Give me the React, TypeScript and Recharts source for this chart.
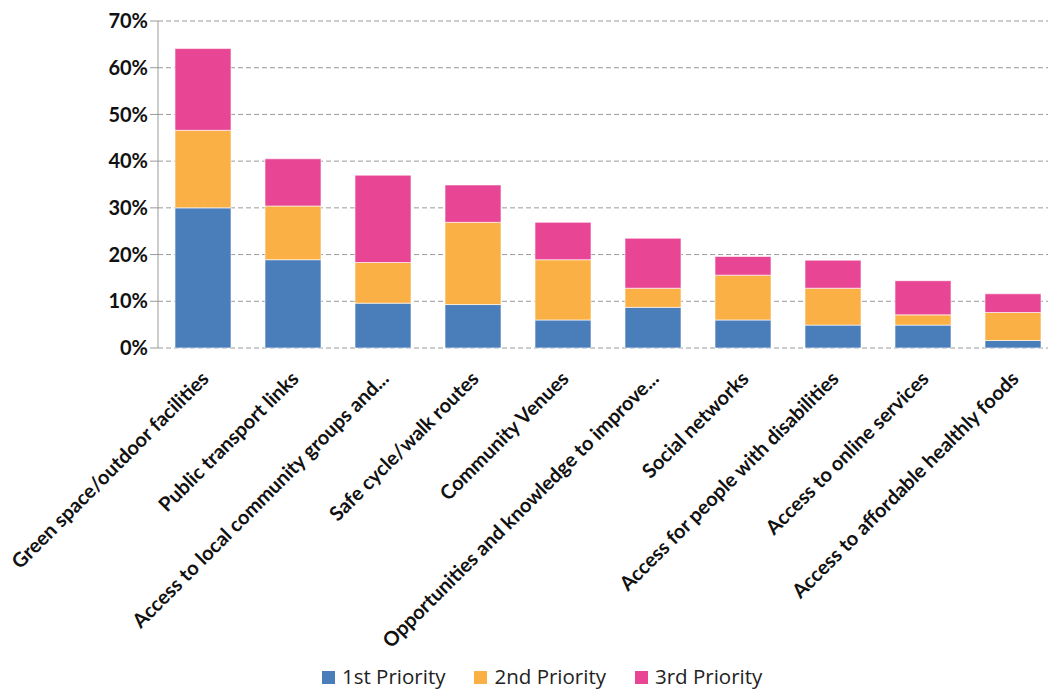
import React from 'react';
import { BarChart, Bar, XAxis, YAxis, CartesianGrid } from 'recharts';

const categories = [
  'Green space/outdoor facilities',
  'Public transport links',
  'Access to local community groups and...',
  'Safe cycle/walk routes',
  'Community Venues',
  'Opportunities and knowledge to improve...',
  'Social networks',
  'Access for people with disabilities',
  'Access to online services',
  'Access to affordable healthly foods',
];

const firstPriority = [30, 18.9, 9.6, 9.3, 6.0, 8.7, 6.0, 4.9, 4.9, 1.6];
const secondPriority = [16.6, 11.5, 8.7, 17.6, 12.9, 4.1, 9.6, 7.9, 2.2, 6.0];
const thirdPriority = [17.5, 10.1, 18.7, 8.0, 8.0, 10.7, 4.0, 6.0, 7.3, 4.0];

const seriesNames = ['1st Priority', '2nd Priority', '3rd Priority'];
const seriesColors = ['#4A7EBB', '#FBB046', '#E84594'];
const yTicks = [0, 10, 20, 30, 40, 50, 60, 70];
const slotTicks = [0, 1, 2, 3, 4, 5, 6, 7, 8, 9, 10];

const data = categories.map((name, i) => ({
  name,
  p1: firstPriority[i],
  p2: secondPriority[i],
  p3: thirdPriority[i],
}));

const FONT = 'Lato, "Open Sans", sans-serif';

// rotated category labels, end of text sits just right of the bar centre
function CategoryTick(props: any) {
  const { x, y, payload } = props;
  return (
    <g transform={`translate(${x + 7},${y + 24})`}>
      <text
        transform="rotate(-45)"
        textAnchor="end"
        fontFamily={FONT}
        fontWeight="bold"
        fontSize={20}
        fill="#111"
      >
        {payload.value}
      </text>
    </g>
  );
}

export default function App() {
  const keys = ['p1', 'p2', 'p3'];
  return (
    <div
      style={{
        position: 'absolute',
        left: 0,
        top: 0,
        width: 1048,
        height: 690,
        overflow: 'hidden',
        background: '#fff',
      }}
    >
      <BarChart
        width={1070}
        height={690}
        data={data}
        margin={{ top: 21, right: 12, bottom: 42, left: 0 }}
      >
        <CartesianGrid
          vertical={false}
          stroke="#9a9a9a"
          strokeDasharray="5 3"
          yAxisId="y"
          xAxisId="cat"
        />
        <XAxis
          xAxisId="slots"
          type="number"
          domain={[0, 10]}
          ticks={slotTicks}
          height={0}
          tick={false}
          tickSize={6}
          axisLine={{ stroke: '#999' }}
          tickLine={{ stroke: '#999' }}
          allowDataOverflow
        />
        <XAxis
          xAxisId="cat"
          dataKey="name"
          height={300}
          interval={0}
          axisLine={false}
          tickLine={false}
          tick={<CategoryTick />}
        />
        <YAxis
          yAxisId="y"
          width={158}
          domain={[0, 70]}
          ticks={yTicks}
          tickFormatter={(v: number) => `${v}%`}
          tickSize={8}
          axisLine={{ stroke: '#999' }}
          tickLine={{ stroke: '#999' }}
          tick={{ fontFamily: FONT, fontWeight: 'bold', fontSize: 20, fill: '#111' }}
        />
        {keys.map((k, i) => (
          <Bar
            key={k}
            dataKey={k}
            name={seriesNames[i]}
            stackId="a"
            xAxisId="cat"
            yAxisId="y"
            fill={seriesColors[i]}
            stroke="#ffffff"
            strokeOpacity={0.6}
            strokeWidth={1}
            barSize={56}
            isAnimationActive={false}
          />
        ))}
      </BarChart>
      <div
        style={{
          position: 'absolute',
          left: 322,
          top: 664,
          height: 24,
          lineHeight: '24px',
          display: 'flex',
          alignItems: 'center',
          fontFamily: '"Open Sans", sans-serif',
          fontSize: 20.5,
          color: '#222',
          whiteSpace: 'nowrap',
        }}
      >
        {seriesNames.map((n, i) => (
          <div
            key={n}
            style={{ display: 'flex', alignItems: 'center', marginRight: 29 }}
          >
            <span
              style={{
                display: 'inline-block',
                width: 13,
                height: 13,
                marginTop: 3,
                background: seriesColors[i],
                marginRight: 7,
              }}
            />
            <span>{n}</span>
          </div>
        ))}
      </div>
    </div>
  );
}
